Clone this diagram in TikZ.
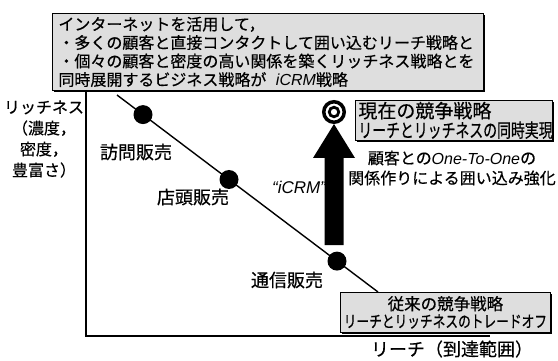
\documentclass[tikz,border=0pt]{standalone}
\usepackage{fontspec}
\setmainfont{Noto Sans CJK JP}[FakeBold=0.5]
\newfontfamily\latin{Liberation Sans}
\usetikzlibrary{shadows}
\tikzset{
  box/.style={draw=black, line width=0.8pt, fill=black!13,
    drop shadow={shadow xshift=1.8pt, shadow yshift=-1.8pt, fill=black, opacity=1}},
  lbl/.style={font=\fontsize{18}{20}\selectfont, inner sep=0pt},
  axisline/.style={line width=1.4pt},
  dot/.style={circle, fill=black, minimum size=19pt, inner sep=0pt},
  ring/.style={circle, draw=black, inner sep=0pt},
}
\begin{document}
\begin{tikzpicture}[x=1pt, y=-1pt]
\useasboundingbox (0,0) rectangle (558,361);
\fill[white] (0,0) rectangle (558,361);

% top box
\node[box, anchor=north west, text width=419pt, minimum height=77pt,
  inner xsep=6pt, inner ysep=2pt, align=left,
  font=\fontsize{16}{18.5}\selectfont] (top) at (52,13)
  {インターネットを活用して，\\・多くの顧客と直接コンタクトして囲い込むリーチ戦略と\\・個々の顧客と密度の高い関係を築くリッチネス戦略とを\\同時展開するビジネス戦略が\hspace{0.6em}{\latin\itshape iCRM}戦略};

% axes
\coordinate (ytop) at (86,90);
\coordinate (orig) at (86,336);
\coordinate (xend) at (490,336);
\draw[axisline] (ytop) -- (orig) -- (xend);

% axis labels
\node[align=center, inner sep=0pt, font=\fontsize{16}{21}\selectfont] (ylab) at (44,139)
  {リッチネス\\（濃度，\\密度，\\豊富さ）};
\node[inner sep=0pt, font=\fontsize{18}{20}\selectfont] (xlab) at (452,349) {リーチ（到達範囲）};

% diagonal trade-off line
\coordinate (ds) at (117,95);
\coordinate (de) at (378,292);
\draw[line width=1.4pt] (ds) -- (de);
\node[dot] (d1) at (143,114.6) {};
\node[dot] (d2) at (229,179.5) {};
\node[dot] (d3) at (337,261.1) {};
\node[lbl] (l1) at (136,152) {訪問販売};
\node[lbl] (l2) at (193,197) {店頭販売};
\node[lbl] (l3) at (287,280) {通信販売};
\node[inner sep=0pt, font=\latin\itshape\fontsize{17}{20}\selectfont] (icrm) at (299,187) {“iCRM”};

% double circle
\node[ring, line width=3.5pt, minimum size=20.5pt] (now) at (334,112) {};
\node[ring, line width=2.8pt, minimum size=9.5pt] (nowin) at (now) {};

% big arrow
\coordinate (abot) at (334,245);
\coordinate (atip) at (334,124);
\fill[black] (324.5,245) -- (324.5,158) -- (313,158) -- (atip) -- (355,158)
  -- (343.5,158) -- (343.5,245) -- cycle;

% current strategy box
\node[box, anchor=north west, text width=191pt, minimum height=40pt,
  inner xsep=3pt, inner ysep=1pt, align=left,
  font=\fontsize{19}{19.5}\selectfont] (cur) at (355,100)
  {現在の競争戦略\\\scalebox{0.73}[1]{リーチとリッチネスの同時実現}};

\node[align=center, inner sep=0pt, font=\fontsize{16}{20}\selectfont] (desc) at (452,168)
  {顧客との{\latin\itshape One-To-One}の\\関係作りによる囲い込み強化};

% traditional strategy box
\node[box, anchor=north west, text width=204pt, minimum height=40pt,
  inner xsep=3pt, inner ysep=1pt, align=center,
  font=\fontsize{16.5}{17.5}\selectfont] (old) at (340,292)
  {従来の競争戦略\\\scalebox{0.77}[1]{リーチとリッチネスのトレードオフ}};
\end{tikzpicture}
\end{document}
